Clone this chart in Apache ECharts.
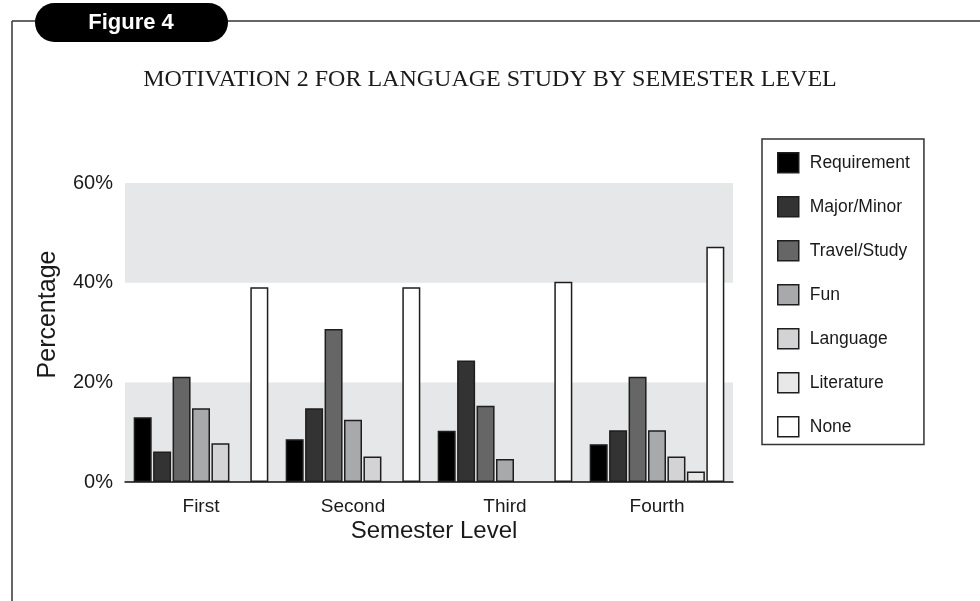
<!DOCTYPE html>
<html>
<head>
<meta charset="utf-8">
<script src="https://cdn.jsdelivr.net/npm/echarts@6/dist/echarts.min.js"></script>
<style>
  html, body { margin: 0; padding: 0; background: #fff; }
  #chart { width: 980px; height: 601px; }
</style>
</head>
<body>
<div id="chart"></div>
<script>
const semesters = ['First', 'Second', 'Third', 'Fourth'];
const motives = ['Requirement', 'Major/Minor', 'Travel/Study', 'Fun', 'Language', 'Literature', 'None'];

// percentages, one array per motive
const requirement = [13.0, 8.6, 10.3, 7.6];
const majorMinor = [6.1, 14.8, 24.4, 10.4];
const travelStudy = [21.1, 30.7, 15.3, 21.1];
const fun = [14.8, 12.5, 4.6, 10.4];
const language = [7.8, 5.1, 0, 5.1];
const literature = [0, 0, 0, 2.1];
const none = [39.1, 39.1, 40.2, 47.2];

const yTicks = [0, 20, 40, 60];
const greys = ['#000000', '#333333', '#666666', '#a8a9ab', '#d3d3d5', '#e8e8e8', '#ffffff'];

const seriesValues = [requirement, majorMinor, travelStudy, fun, language, literature, none];

const makeSeries = () => seriesValues.map((vals, i) => ({
  name: motives[i],
  type: 'bar',
  barWidth: 18,
  barGap: '8%',
  // zero means no bar in the figure
  data: vals.map(v => (v === 0 ? null : v)),
  itemStyle: { color: greys[i], borderColor: '#1e1e1e', borderWidth: 1.5 },
  emphasis: { disabled: true }
}));

const getOption = () => ({
  animation: false,
  backgroundColor: '#fff',
  title: {
    text: 'MOTIVATION 2 FOR LANGUAGE STUDY BY SEMESTER LEVEL',
    left: 'center',
    top: 63,
    textStyle: { fontFamily: 'Liberation Serif', fontSize: 24, fontWeight: 'normal', color: '#1a1a1a' }
  },
  legend: {
    orient: 'vertical',
    left: 762,
    top: 139,
    data: motives,
    icon: 'rect',
    itemWidth: 21,
    itemHeight: 20,
    itemGap: 22.5,
    padding: [13, 14, 7, 15],
    borderColor: '#333',
    borderWidth: 1.5,
    itemStyle: { borderColor: '#1e1e1e', borderWidth: 1.5 },
    selectedMode: false,
    textStyle: { fontFamily: 'Liberation Sans', fontSize: 17.5, color: '#1a1a1a', padding: [0, 0, 0, 6] }
  },
  grid: { left: 125, right: 247, top: 183, bottom: 119 },
  xAxis: {
    type: 'category',
    data: semesters,
    axisTick: { show: false },
    axisLine: { lineStyle: { color: '#111', width: 1.5 } },
    axisLabel: { margin: 15, fontFamily: 'Liberation Sans', fontSize: 19, color: '#1a1a1a' },
    name: 'Semester Level',
    nameLocation: 'middle',
    nameGap: 37,
    nameTextStyle: { fontFamily: 'Liberation Sans', fontSize: 24, color: '#1a1a1a', padding: [0, 0, 0, 10] }
  },
  yAxis: {
    type: 'value',
    min: yTicks[0],
    max: yTicks[yTicks.length - 1],
    interval: yTicks[1] - yTicks[0],
    axisLine: { show: false },
    axisTick: { show: false },
    splitLine: { show: false },
    splitArea: { show: true, areaStyle: { color: ['#e6e7e8', '#ffffff'] } },
    axisLabel: { margin: 12, formatter: '{value}%', fontFamily: 'Liberation Sans', fontSize: 20, color: '#1a1a1a' },
    name: 'Percentage',
    nameLocation: 'middle',
    nameRotate: 90,
    nameGap: 64,
    nameTextStyle: { fontFamily: 'Liberation Sans', fontSize: 25, color: '#1a1a1a', padding: [0, 0, 0, 36] }
  },
  graphic: [
    { type: 'line', shape: { x1: 12, y1: 21, x2: 980, y2: 21 }, style: { stroke: '#333', lineWidth: 1.5 } },
    { type: 'line', shape: { x1: 12, y1: 21, x2: 12, y2: 601 }, style: { stroke: '#333', lineWidth: 1.5 } },
    { type: 'rect', shape: { x: 35, y: 3, width: 193, height: 39, r: 19.5 }, style: { fill: '#000' } },
    {
      type: 'text', x: 131, y: 23,
      style: { text: 'Figure 4', fill: '#fff', font: 'bold 22px "Liberation Sans"', align: 'center', verticalAlign: 'middle' }
    }
  ],
  series: makeSeries()
});

const initChart = () => {
  const chart = echarts.init(document.getElementById('chart'));
  chart.setOption(getOption());
};

window.addEventListener('load', () => {
  initChart();
});
</script>
</body>
</html>
